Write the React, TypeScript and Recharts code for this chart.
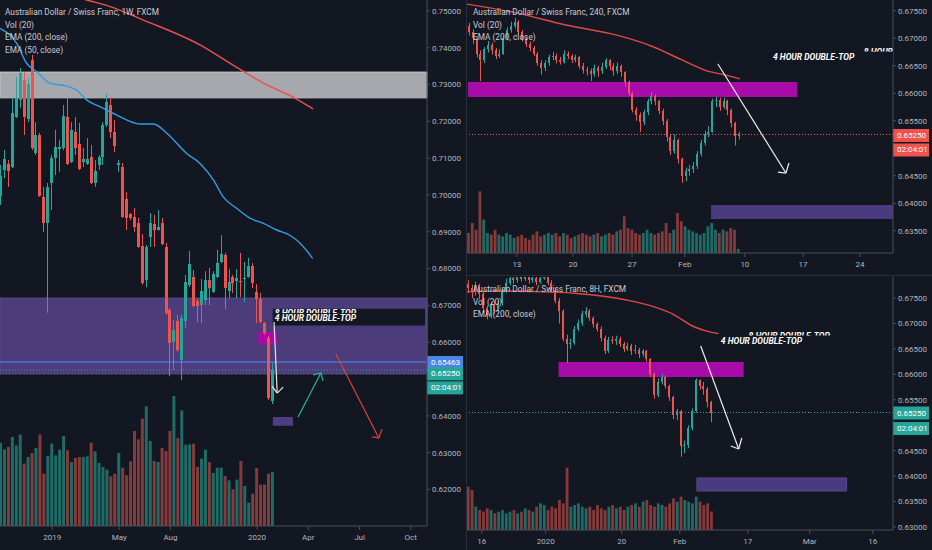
import React from "react";
import {
  ComposedChart,
  Bar,
  Line,
  XAxis,
  YAxis,
  ReferenceArea,
  ReferenceLine,
  ReferenceDot,
} from "recharts";

if (typeof document !== "undefined") {
  document.body.style.margin = "0";
  document.body.style.background = "#131722";
}

const BG = "#131722";
const UP = "#26a69a";
const DOWN = "#ef5350";
const VOL_UP = "#1f6b65";
const VOL_DOWN = "#853a3b";
const AXIS = "#4a4e59";
const TXT = "#b2b5be";
const LEGEND = "#c9ccd4";
const FONT = "Roboto, 'Liberation Sans', sans-serif";
const MAGENTA = "#a70ca8";
const PURPLE = "#4c3c7c";

// ---------------- Weekly (left) ----------------
const weeklyOHLC = [
  [0.6998, 0.7082, 0.6973, 0.7053], [0.7068, 0.7122, 0.7046, 0.7098], [0.7084, 0.7095, 0.7022, 0.7065],
  [0.7076, 0.7264, 0.7073, 0.7223], [0.7212, 0.7321, 0.7209, 0.7264], [0.7258, 0.7345, 0.7237, 0.7332],
  [0.7313, 0.7334, 0.7163, 0.7212], [0.7207, 0.7318, 0.7198, 0.7302], [0.7367, 0.7381, 0.7122, 0.7128],
  [0.7114, 0.7198, 0.7109, 0.7163], [0.7163, 0.7169, 0.6995, 0.6997], [0.6995, 0.7022, 0.69, 0.6924],
  [0.6924, 0.7033, 0.668, 0.7022], [0.7033, 0.7109, 0.6959, 0.7101], [0.7101, 0.7177, 0.7054, 0.7131],
  [0.7125, 0.715, 0.7063, 0.7131], [0.7128, 0.7245, 0.7122, 0.7215], [0.7212, 0.7266, 0.7082, 0.7084],
  [0.709, 0.7198, 0.7087, 0.7177], [0.7171, 0.7212, 0.7109, 0.7128], [0.7139, 0.7196, 0.7068, 0.7071],
  [0.709, 0.7128, 0.7076, 0.7098], [0.7084, 0.7155, 0.7082, 0.7098], [0.7103, 0.7136, 0.703, 0.7033],
  [0.7033, 0.7095, 0.7022, 0.7065], [0.7082, 0.7109, 0.7068, 0.7103], [0.7103, 0.7198, 0.7082, 0.719],
  [0.719, 0.7275, 0.7185, 0.7253], [0.7245, 0.7266, 0.7155, 0.7171], [0.7171, 0.7204, 0.7117, 0.7133],
  [0.7082, 0.7095, 0.7063, 0.7087], [0.7076, 0.7087, 0.6938, 0.694], [0.6989, 0.7008, 0.6905, 0.6938],
  [0.6948, 0.6951, 0.6932, 0.6938], [0.694, 0.6965, 0.69, 0.6913], [0.6924, 0.6938, 0.6857, 0.6859],
  [0.6862, 0.6894, 0.6756, 0.6761], [0.6769, 0.6864, 0.675, 0.6859], [0.6886, 0.6951, 0.6859, 0.6924],
  [0.6921, 0.6946, 0.6859, 0.6905], [0.6905, 0.6959, 0.6903, 0.6913], [0.6924, 0.6938, 0.6864, 0.6867],
  [0.6859, 0.687, 0.6674, 0.668], [0.6688, 0.6693, 0.6508, 0.6598], [0.6601, 0.666, 0.6525, 0.6633],
  [0.6658, 0.6674, 0.6574, 0.6579], [0.6552, 0.6674, 0.6497, 0.6666], [0.6658, 0.6783, 0.6639, 0.6764],
  [0.6756, 0.6848, 0.675, 0.6813], [0.6777, 0.6796, 0.6696, 0.6698], [0.6712, 0.672, 0.6655, 0.6698],
  [0.6701, 0.6772, 0.6652, 0.6739], [0.6715, 0.6793, 0.6701, 0.6769], [0.6769, 0.6802, 0.6701, 0.6747],
  [0.6737, 0.6793, 0.6734, 0.6785], [0.6777, 0.6851, 0.6775, 0.6815], [0.6818, 0.6891, 0.6815, 0.684],
  [0.6837, 0.6843, 0.669, 0.6747], [0.6739, 0.6799, 0.672, 0.6764], [0.6777, 0.6783, 0.6734, 0.6761],
  [0.6766, 0.6799, 0.672, 0.6775], [0.6766, 0.6843, 0.6723, 0.6764], [0.6772, 0.6818, 0.6709, 0.6775],
  [0.6777, 0.6829, 0.6775, 0.6807], [0.6807, 0.6815, 0.6747, 0.6761], [0.6737, 0.6758, 0.6652, 0.6718],
  [0.6718, 0.6734, 0.6652, 0.6655], [0.6652, 0.6655, 0.662, 0.6625], [0.6612, 0.6617, 0.6443, 0.6449],
  [0.644, 0.6545, 0.6432, 0.6525],
];
const weeklyVolume = [
  250, 230, 237, 267, 242, 274, 187, 207, 219, 234, 274, 157, 210, 247, 212, 229, 270, 227, 192, 204,
  207, 207, 209, 250, 224, 189, 177, 169, 149, 157, 219, 175, 152, 194, 285, 260, 322, 359, 255, 195,
  192, 234, 225, 285, 390, 264, 347, 244, 245, 247, 177, 202, 229, 192, 159, 175, 175, 150, 137, 110,
  139, 195, 120, 70, 97, 174, 124, 124, 157, 162,
];
const weeklyEma200 = [
  [15, 0.7552], [21.8, 0.753], [27.7, 0.7512], [36, 0.7476], [50.5, 0.7408], [58.9, 0.7353],
  [67.5, 0.7299], [74.1, 0.7266], [79.2, 0.7234],
];
const weeklyEma50 = [
  [-0.3, 0.7453], [4, 0.7412], [6.5, 0.7358], [9.1, 0.7335], [12.4, 0.7304], [16.7, 0.7296],
  [19.2, 0.7285], [21.8, 0.7258], [25.1, 0.724], [29.4, 0.7217], [35.3, 0.7193], [38.7, 0.7193],
  [42.1, 0.7168], [47.1, 0.7113], [50.5, 0.7086], [53.9, 0.7041], [56.4, 0.6995], [59.8, 0.6964],
  [63.2, 0.6937], [66.6, 0.6923], [70, 0.6905], [73.4, 0.689], [75.9, 0.6869], [79.1, 0.6828],
];
const weeklyTicks = [13, 30, 43, 65, 78, 91, 104];
const weeklyTickLabels = ["2019", "May", "Aug", "2020", "Apr", "Jul", "Oct"];
const weeklyPriceTicks = [0.75, 0.74, 0.73, 0.72, 0.71, 0.7, 0.69, 0.68, 0.67, 0.66, 0.64, 0.63, 0.62];
const weeklyGrayZone = [0.7264, 0.7334];
const weeklyPurpleZone = [0.6514, 0.672];
const weeklyMagentaZone = [65.2, 70.1, 0.6595, 0.6628];
const weeklyTargetZone = [69, 74.1, 0.6373, 0.6397];
const weeklyLabelBox = [69, 107.6, 0.66461, 0.66912];
const weeklyBlueLevel = 0.65463;
const weeklyArrowWhite = [[69.3, 0.6655], [70.1, 0.6462], [68.8, 0.6481], [71.6, 0.6478]];
const weeklyArrowTeal = [[75.4, 0.6397], [81.2, 0.6517], [79.2, 0.6511], [81.7, 0.6495]];
const weeklyArrowRed = [[85, 0.6568], [95.9, 0.634], [94.2, 0.6343], [96.7, 0.6364]];

// ---------------- 240 (top right) ----------------
const h4OHLC = [
  [0.6722, 0.6728, 0.6705, 0.6712], [0.6712, 0.6716, 0.669, 0.67], [0.67, 0.6703, 0.6665, 0.6672],
  [0.6672, 0.6678, 0.6622, 0.666], [0.666, 0.6684, 0.6655, 0.668], [0.668, 0.6695, 0.6674, 0.6688],
  [0.6688, 0.6692, 0.667, 0.6678], [0.6678, 0.6682, 0.6662, 0.6668], [0.6668, 0.668, 0.6664, 0.6672],
  [0.6672, 0.6705, 0.667, 0.67], [0.67, 0.672, 0.6696, 0.6715], [0.6715, 0.673, 0.671, 0.6722],
  [0.6722, 0.6737, 0.6718, 0.673], [0.673, 0.6733, 0.6708, 0.6712], [0.6712, 0.6715, 0.6694, 0.6698],
  [0.6698, 0.6702, 0.6684, 0.669], [0.669, 0.6694, 0.6676, 0.6682], [0.6682, 0.6686, 0.6668, 0.6672],
  [0.6672, 0.6675, 0.665, 0.6655], [0.6655, 0.666, 0.6634, 0.6645], [0.6645, 0.666, 0.664, 0.6655],
  [0.6655, 0.667, 0.665, 0.6665], [0.6665, 0.6675, 0.666, 0.6668], [0.6668, 0.6672, 0.6654, 0.666],
  [0.666, 0.6666, 0.6652, 0.6657], [0.6657, 0.6678, 0.6654, 0.6672], [0.6672, 0.6676, 0.6662, 0.6668],
  [0.6668, 0.6671, 0.6655, 0.666], [0.666, 0.667, 0.6656, 0.6665], [0.6665, 0.6668, 0.6645, 0.665],
  [0.665, 0.6655, 0.6636, 0.6642], [0.6642, 0.6648, 0.6632, 0.664], [0.664, 0.6645, 0.6622, 0.6635],
  [0.6635, 0.6652, 0.663, 0.6645], [0.6645, 0.665, 0.663, 0.664], [0.664, 0.6655, 0.6635, 0.6648],
  [0.6648, 0.6664, 0.6644, 0.666], [0.666, 0.6662, 0.6642, 0.665], [0.665, 0.6655, 0.6632, 0.664],
  [0.664, 0.6656, 0.6635, 0.665], [0.665, 0.6652, 0.663, 0.6638], [0.6638, 0.664, 0.6612, 0.662],
  [0.662, 0.6623, 0.6595, 0.66], [0.66, 0.6603, 0.6565, 0.657], [0.657, 0.6575, 0.655, 0.656],
  [0.656, 0.6565, 0.653, 0.6548], [0.6548, 0.657, 0.6542, 0.6565], [0.6565, 0.659, 0.656, 0.6585],
  [0.6585, 0.6602, 0.658, 0.6595], [0.6595, 0.6598, 0.6578, 0.6585], [0.6585, 0.6588, 0.6562, 0.6568],
  [0.6568, 0.6572, 0.6542, 0.655], [0.655, 0.6553, 0.6512, 0.652], [0.652, 0.6524, 0.6488, 0.6495],
  [0.6495, 0.6525, 0.649, 0.6515], [0.6515, 0.6518, 0.6472, 0.648], [0.648, 0.6483, 0.6437, 0.645],
  [0.645, 0.6465, 0.644, 0.6458], [0.6458, 0.647, 0.645, 0.6462], [0.6462, 0.6475, 0.6455, 0.6468],
  [0.6468, 0.6495, 0.6462, 0.649], [0.649, 0.6515, 0.6485, 0.651], [0.651, 0.6532, 0.6505, 0.6525],
  [0.6525, 0.654, 0.652, 0.653], [0.653, 0.659, 0.6528, 0.6585], [0.6585, 0.6593, 0.6575, 0.6588],
  [0.6588, 0.6592, 0.6568, 0.6575], [0.6575, 0.6592, 0.6572, 0.6585], [0.6585, 0.6588, 0.656, 0.657],
  [0.657, 0.6572, 0.6538, 0.6545], [0.6545, 0.6548, 0.6505, 0.6522], [0.6522, 0.653, 0.6516, 0.6525],
];
const h4Volume = [
  60, 90, 70, 185, 100, 60, 55, 70, 55, 50, 60, 55, 45, 50, 55, 45, 40, 55, 65, 50,
  55, 60, 55, 60, 50, 60, 55, 45, 50, 55, 60, 55, 50, 55, 60, 50, 55, 60, 55, 65,
  70, 110, 75, 70, 60, 55, 60, 70, 60, 55, 60, 65, 90, 60, 70, 120, 95, 80, 70, 65,
  60, 55, 60, 80, 90, 70, 60, 70, 65, 75, 70, 12,
];
const h4Ema200 = [
  [-0.5, 0.6762], [12.4, 0.6746], [25.5, 0.6724], [38.7, 0.6706], [48.3, 0.6685], [56.2, 0.666],
  [62.4, 0.6641], [67.6, 0.6633], [71.3, 0.6626],
];
const h4Ticks = [12.6, 27.4, 42.9, 56.8, 72.6, 87.9, 102.9];
const h4TickLabels = ["13", "20", "27", "Feb", "10", "17", "24"];
const h4PriceTicks = [0.675, 0.67, 0.665, 0.66, 0.655, 0.645, 0.64, 0.635];
const h4MagentaZone = [-0.3, 86.3, 0.65931, 0.66204];
const h4TargetZone = [63.7, 0.63713, 0.63967];
const h4ArrowWhite = [[65.5, 0.66531], [83.4, 0.64549], [81.3, 0.64567], [84.2, 0.64731]];
const h4Label4 = [80, 0.66604];
const h4Label8 = [103.9, 0.66694];

// ---------------- 8H (bottom right) ----------------
const h8OHLC = [
  [0.6778, 0.6785, 0.676, 0.677], [0.677, 0.6776, 0.675, 0.6762], [0.6762, 0.6782, 0.6755, 0.6775],
  [0.6775, 0.6778, 0.6748, 0.6758], [0.6758, 0.6762, 0.6722, 0.673], [0.673, 0.6735, 0.6708, 0.6715],
  [0.6715, 0.6742, 0.671, 0.6738], [0.6738, 0.6745, 0.6718, 0.6725], [0.6725, 0.6746, 0.672, 0.674],
  [0.674, 0.677, 0.6735, 0.6765], [0.6765, 0.6788, 0.676, 0.678], [0.678, 0.6798, 0.6775, 0.679],
  [0.679, 0.68, 0.6778, 0.6785], [0.6785, 0.6805, 0.678, 0.6795], [0.6795, 0.6802, 0.6782, 0.6788],
  [0.6788, 0.68, 0.6783, 0.6792], [0.6792, 0.6798, 0.6778, 0.6785], [0.6785, 0.6798, 0.678, 0.679],
  [0.679, 0.6796, 0.6775, 0.6782], [0.6782, 0.68, 0.6778, 0.679], [0.679, 0.6805, 0.6786, 0.6795],
  [0.6795, 0.68, 0.6775, 0.678], [0.678, 0.6785, 0.676, 0.6765], [0.6765, 0.677, 0.674, 0.6745],
  [0.6745, 0.675, 0.67, 0.6725], [0.6725, 0.6728, 0.6665, 0.667], [0.667, 0.6678, 0.6623, 0.666],
  [0.666, 0.667, 0.665, 0.6662], [0.6662, 0.6695, 0.6658, 0.669], [0.669, 0.6708, 0.6685, 0.67],
  [0.67, 0.6725, 0.6695, 0.6718], [0.6718, 0.6732, 0.6712, 0.6725], [0.6725, 0.6728, 0.6705, 0.671],
  [0.671, 0.6714, 0.6692, 0.6698], [0.6698, 0.6702, 0.6684, 0.669], [0.669, 0.6694, 0.6665, 0.6672],
  [0.6672, 0.6676, 0.664, 0.6645], [0.6645, 0.6674, 0.6642, 0.6668], [0.6668, 0.6675, 0.666, 0.6665],
  [0.6665, 0.6676, 0.6658, 0.667], [0.667, 0.6674, 0.6654, 0.666], [0.666, 0.6664, 0.6644, 0.665],
  [0.665, 0.6662, 0.6646, 0.6655], [0.6655, 0.666, 0.6638, 0.6645], [0.6645, 0.6658, 0.664, 0.6648],
  [0.6648, 0.6652, 0.6632, 0.664], [0.664, 0.665, 0.6635, 0.6645], [0.6645, 0.6648, 0.6625, 0.663],
  [0.663, 0.6632, 0.6595, 0.66], [0.66, 0.6603, 0.6552, 0.656], [0.656, 0.6592, 0.6555, 0.6585],
  [0.6585, 0.6601, 0.658, 0.6595], [0.6595, 0.6598, 0.6572, 0.6578], [0.6578, 0.658, 0.6548, 0.6555],
  [0.6555, 0.6558, 0.6512, 0.652], [0.652, 0.6532, 0.651, 0.6527], [0.6527, 0.653, 0.6438, 0.646],
  [0.646, 0.647, 0.6445, 0.6462], [0.6462, 0.65, 0.6455, 0.6495], [0.6495, 0.6533, 0.649, 0.6528],
  [0.6528, 0.6592, 0.6525, 0.6588], [0.6588, 0.659, 0.657, 0.6578], [0.6578, 0.6585, 0.656, 0.6572],
  [0.6572, 0.6575, 0.6535, 0.6545], [0.6545, 0.6548, 0.6506, 0.6525],
];
const h8Volume = [
  130, 120, 70, 60, 55, 65, 60, 50, 55, 60, 50, 55, 60, 50, 55, 65, 60, 55, 70, 80,
  75, 60, 70, 65, 90, 80, 187, 70, 75, 80, 70, 65, 70, 60, 75, 65, 60, 70, 75, 65,
  70, 60, 70, 75, 80, 70, 85, 90, 75, 70, 80, 75, 70, 80, 95, 85, 100, 90, 85, 80,
  100, 85, 75, 80, 55,
];
const h8Ema200 = [
  [-0.3, 0.6762], [8.5, 0.6764], [20, 0.6762], [28.7, 0.6759], [41.8, 0.6746], [48.9, 0.6733],
  [54.1, 0.6718], [59.4, 0.6694], [62.9, 0.6685], [66, 0.668],
];
const h8Ticks = [3.7, 20.5, 40.5, 55.8, 73.7, 90, 106.6];
const h8TickLabels = ["16", "2020", "20", "Feb", "17", "Mar", "16"];
const h8PriceTicks = [0.675, 0.67, 0.665, 0.66, 0.655, 0.645, 0.64, 0.635, 0.63];
const h8MagentaZone = [23.9, 72.6, 0.65948, 0.66242];
const h8TargetZone = [60.3, 99.7, 0.63708, 0.63963];
const h8ArrowWhite = [[61.3, 0.66557], [71.3, 0.64533], [69.2, 0.64592], [72.1, 0.64749]];
const h8Label4 = [66.6, 0.66596];
const h8Label8 = [73.9, 0.66704];

const COUNTDOWN = "02:04:01";

type Row = { i: number; o: number; h: number; l: number; c: number; v: number };
const toRows = (ohlc: number[][], vol: number[]): Row[] =>
  ohlc.map(([o, h, l, c], i) => ({ i, o, h, l, c, v: vol[i] }));
const toLine = (pts: number[][]) => pts.map(([i, e]) => ({ i, e }));

const weeklyRows = toRows(weeklyOHLC, weeklyVolume);
const h4Rows = toRows(h4OHLC, h4Volume);
const h8Rows = toRows(h8OHLC, h8Volume);
const lastClose = (rows: Row[]) => rows[rows.length - 1].c;

function CandleShape(props: any) {
  const { x, y, width, height, payload } = props;
  if (x == null || y == null || !payload) return null;
  const { o, h, l, c } = payload as Row;
  const color = c >= o ? UP : DOWN;
  const k = h - l > 0 ? height / (h - l) : 0;
  const yo = y + (h - o) * k;
  const yc = y + (h - c) * k;
  const top = Math.min(yo, yc);
  const bh = Math.max(Math.abs(yo - yc), 1);
  const w = Math.max(1, Math.round(width));
  const center = x + width / 2;
  const x0 = Math.round(center - w / 2);
  const wx = x0 + Math.floor(w / 2) + 0.5;
  return (
    <g>
      <line x1={wx} x2={wx} y1={y} y2={y + height} stroke={color} strokeWidth={1} />
      <rect x={x0} y={top} width={w} height={bh} fill={color} shapeRendering="crispEdges" />
    </g>
  );
}

function VolShape(props: any) {
  const { x, y, width, height, payload } = props;
  if (x == null || y == null || !payload) return null;
  return (
    <rect x={x} y={y} width={width} height={Math.max(height, 0)} fill={payload.c >= payload.o ? VOL_UP : VOL_DOWN} />
  );
}

type Tag = { text: string; bg: string; dy: number };
function PriceTags({ viewBox, tags }: { viewBox?: any; tags: Tag[] }) {
  if (!viewBox) return null;
  const x = viewBox.x + viewBox.width;
  const y = viewBox.y;
  return (
    <g>
      {tags.map((t, k) => (
        <g key={k}>
          <rect x={x} y={y + t.dy - 6.5} width={36} height={13} fill={t.bg} />
          <text x={x + 4} y={y + t.dy} dominantBaseline="central" fill="#ffffff" fontSize={8} fontFamily={FONT}>
            {t.text}
          </text>
        </g>
      ))}
    </g>
  );
}

const labelStyle = {
  fill: "#ffffff",
  fontSize: 8.5,
  fontWeight: 700,
  fontStyle: "italic",
  fontFamily: FONT,
} as const;

function arrow(pts: number[][], color: string, key: string) {
  const tip = { x: pts[1][0], y: pts[1][1] };
  return [
    <ReferenceLine key={key + "a"} segment={[{ x: pts[0][0], y: pts[0][1] }, tip]} stroke={color} strokeWidth={1.2} />,
    <ReferenceLine key={key + "b"} segment={[{ x: pts[2][0], y: pts[2][1] }, tip]} stroke={color} strokeWidth={1.2} />,
    <ReferenceLine key={key + "c"} segment={[{ x: pts[3][0], y: pts[3][1] }, tip]} stroke={color} strokeWidth={1.2} />,
  ];
}

function label8(pos: number[], key: string, clipWidth?: number) {
  return (
    <ReferenceDot
      key={key}
      x={pos[0]}
      y={pos[1]}
      r={0}
      shape={(sp: any) =>
        clipWidth ? (
          <svg x={sp.cx} y={sp.cy - 10} width={clipWidth} height={14} overflow="hidden">
            <text x={0} y={10} {...labelStyle}>8 HOUR DOUBLE-TOP</text>
          </svg>
        ) : (
          <text x={sp.cx} y={sp.cy} {...labelStyle}>8 HOUR DOUBLE-TOP</text>
        )
      }
    />
  );
}

function label4(pos: number[], key: string, bgWidth: number) {
  return (
    <ReferenceDot
      key={key}
      x={pos[0]}
      y={pos[1]}
      r={0}
      shape={(sp: any) => (
        <g>
          <rect x={sp.cx - 2} y={sp.cy - 8.5} width={bgWidth} height={12} fill={BG} />
          <text x={sp.cx} y={sp.cy} {...labelStyle}>4 HOUR DOUBLE-TOP</text>
        </g>
      )}
    />
  );
}

type PanelProps = {
  width: number;
  height: number;
  margin: { top: number; right: number; bottom: number; left: number };
  rows: Row[];
  xDomain: [number, number];
  yDomain: [number, number];
  volMax: number;
  xTicks: number[];
  xLabels: string[];
  yTicks: number[];
  xAxisHeight: number;
  candleWidth: number;
  volWidth: number;
  emas: { data: { i: number; e: number }[]; color: string }[];
  under?: React.ReactNode;
  over?: React.ReactNode;
};

function Panel(p: PanelProps) {
  return (
    <ComposedChart width={p.width} height={p.height} data={p.rows} margin={p.margin}>
      <XAxis
        type="number"
        dataKey="i"
        domain={p.xDomain}
        allowDataOverflow
        ticks={p.xTicks}
        interval={0}
        tickFormatter={(v: number) => p.xLabels[p.xTicks.indexOf(v)] ?? ""}
        height={p.xAxisHeight}
        tickSize={4}
        tickMargin={4}
        tick={{ fill: TXT, fontSize: 8, fontFamily: FONT }}
        axisLine={{ stroke: AXIS }}
        tickLine={{ stroke: AXIS }}
      />
      <XAxis xAxisId="vx" type="number" dataKey="i" domain={p.xDomain} allowDataOverflow hide />
      <XAxis xAxisId="lx" type="number" dataKey="i" domain={p.xDomain} allowDataOverflow hide />
      <YAxis
        orientation="right"
        type="number"
        domain={p.yDomain}
        allowDataOverflow
        ticks={p.yTicks}
        interval={0}
        tickFormatter={(v: number) => v.toFixed(5)}
        width={39}
        tickSize={3}
        tickMargin={2}
        tick={{ fill: TXT, fontSize: 8, fontFamily: FONT }}
        axisLine={{ stroke: AXIS }}
        tickLine={{ stroke: AXIS }}
      />
      <YAxis yAxisId="vol" type="number" domain={[0, p.volMax]} allowDataOverflow hide />
      {p.under}
      <Bar
        xAxisId="vx"
        yAxisId="vol"
        dataKey="v"
        barSize={p.volWidth}
        isAnimationActive={false}
        shape={VolShape}
      />
      <Bar
        dataKey={(d: Row) => [d.l, d.h]}
        barSize={p.candleWidth}
        isAnimationActive={false}
        shape={CandleShape}
      />
      {p.emas.map((e, k) => (
        <Line
          key={k}
          xAxisId="lx"
          data={e.data}
          dataKey="e"
          type="monotone"
          stroke={e.color}
          strokeWidth={1.4}
          dot={false}
          activeDot={false}
          isAnimationActive={false}
        />
      ))}
      {p.over}
    </ComposedChart>
  );
}

function LegendBlock({ left, top, lines }: { left: number; top: number; lines: string[] }) {
  return (
    <div
      style={{
        position: "absolute",
        left,
        top,
        color: LEGEND,
        fontFamily: FONT,
        fontSize: 8.3,
        lineHeight: "12.7px",
        pointerEvents: "none",
        whiteSpace: "nowrap",
      }}
    >
      {lines.map((t, k) => (
        <div key={k}>{t}</div>
      ))}
    </div>
  );
}

export default function App() {
  const wClose = lastClose(weeklyRows);
  const h4Close = lastClose(h4Rows);
  const h8Close = lastClose(h8Rows);
  return (
    <div style={{ position: "relative", width: 932, height: 550, background: BG, overflow: "hidden" }}>
      {/* Left: weekly */}
      <div style={{ position: "absolute", left: 0, top: 0 }}>
        <Panel
          width={466}
          height={550}
          margin={{ top: 0, right: 0, bottom: 0, left: 0 }}
          rows={weeklyRows}
          xDomain={[-0.254, 108.12]}
          yDomain={[0.61008, 0.75299]}
          volMax={1578}
          xTicks={weeklyTicks}
          xLabels={weeklyTickLabels}
          yTicks={weeklyPriceTicks}
          xAxisHeight={24}
          candleWidth={3}
          volWidth={3}
          emas={[
            { data: toLine(weeklyEma200), color: "#ef4f4f" },
            { data: toLine(weeklyEma50), color: "#2f9fe0" },
          ]}
          under={[
            <ReferenceArea key="g" y1={weeklyGrayZone[0]} y2={weeklyGrayZone[1]} fill="#a6a8ad" fillOpacity={1} stroke="#c3c4c8" />,
            <ReferenceArea key="p" y1={weeklyPurpleZone[0]} y2={weeklyPurpleZone[1]} fill={PURPLE} fillOpacity={1} stroke="#5a4b8c" />,
            <ReferenceArea key="m" x1={weeklyMagentaZone[0]} x2={weeklyMagentaZone[1]} y1={weeklyMagentaZone[2]} y2={weeklyMagentaZone[3]} fill={MAGENTA} fillOpacity={1} />,
            <ReferenceArea key="t" x1={weeklyTargetZone[0]} x2={weeklyTargetZone[1]} y1={weeklyTargetZone[2]} y2={weeklyTargetZone[3]} fill="#4e3d82" fillOpacity={1} />,
          ]}
          over={[
            <ReferenceLine
              key="blue"
              y={weeklyBlueLevel}
              stroke="#4d8ef7"
              strokeWidth={1}
              label={(lp: any) => (
                <PriceTags viewBox={lp.viewBox} tags={[{ text: weeklyBlueLevel.toFixed(5), bg: "#4a86e8", dy: 0.5 }]} />
              )}
            />,
            <ReferenceLine
              key="last"
              y={wClose}
              stroke={UP}
              strokeDasharray="1 2"
              label={(lp: any) => (
                <PriceTags
                  viewBox={lp.viewBox}
                  tags={[
                    { text: wClose.toFixed(5), bg: UP, dy: 4 },
                    { text: COUNTDOWN, bg: UP, dy: 18 },
                  ]}
                />
              )}
            />,
            <ReferenceArea
              key="lbl"
              x1={weeklyLabelBox[0]}
              x2={weeklyLabelBox[1]}
              y1={weeklyLabelBox[2]}
              y2={weeklyLabelBox[3]}
              fill={BG}
              fillOpacity={1}
              label={(lp: any) => {
                const vb = lp.viewBox || {};
                return (
                  <g>
                    <text x={vb.x + 2} y={vb.y + 7.6} {...labelStyle}>8 HOUR DOUBLE-TOP</text>
                    <rect x={vb.x} y={vb.y + 4.4} width={vb.width} height={vb.height - 4.4} fill={BG} />
                    <text x={vb.x + 2} y={vb.y + 12.6} {...labelStyle}>4 HOUR DOUBLE-TOP</text>
                  </g>
                );
              }}
            />,
            ...arrow(weeklyArrowWhite, "#e6e6e6", "aw"),
            ...arrow(weeklyArrowTeal, "#2bb394", "at"),
            ...arrow(weeklyArrowRed, "#e0403f", "ar"),
          ]}
        />
      </div>

      {/* Top right: 240 */}
      <div style={{ position: "absolute", left: 466, top: 0 }}>
        <Panel
          width={466}
          height={276}
          margin={{ top: 0, right: 0, bottom: 0, left: 1 }}
          rows={h4Rows}
          xDomain={[-0.526, 111.58]}
          yDomain={[0.63095, 0.67695]}
          volMax={759}
          xTicks={h4Ticks}
          xLabels={h4TickLabels}
          yTicks={h4PriceTicks}
          xAxisHeight={23}
          candleWidth={2}
          volWidth={2.8}
          emas={[{ data: toLine(h4Ema200), color: "#e04848" }]}
          under={[
            <ReferenceArea key="m" x1={h4MagentaZone[0]} x2={h4MagentaZone[1]} y1={h4MagentaZone[2]} y2={h4MagentaZone[3]} fill={MAGENTA} fillOpacity={1} />,
            <ReferenceArea key="t" x1={h4TargetZone[0]} y1={h4TargetZone[1]} y2={h4TargetZone[2]} fill="#4a3a7e" fillOpacity={1} />,
          ]}
          over={[
            <ReferenceLine
              key="last"
              y={h4Close}
              stroke={DOWN}
              strokeDasharray="1 2"
              label={(lp: any) => (
                <PriceTags
                  viewBox={lp.viewBox}
                  tags={[
                    { text: h4Close.toFixed(5), bg: DOWN, dy: 1 },
                    { text: COUNTDOWN, bg: DOWN, dy: 15.5 },
                  ]}
                />
              )}
            />,
            ...arrow(h4ArrowWhite, "#eeeeee", "aw"),
            label8(h4Label8, "l8", 29),
            label4(h4Label4, "l4", 122),
          ]}
        />
      </div>

      {/* Bottom right: 8H */}
      <div style={{ position: "absolute", left: 466, top: 276 }}>
        <Panel
          width={466}
          height={274}
          margin={{ top: 1, right: 0, bottom: 0, left: 1 }}
          rows={h8Rows}
          xDomain={[-0.2, 111.9]}
          yDomain={[0.62941, 0.67913]}
          volMax={759}
          xTicks={h8Ticks}
          xLabels={h8TickLabels}
          yTicks={h8PriceTicks}
          xAxisHeight={20}
          candleWidth={2}
          volWidth={2.8}
          emas={[{ data: toLine(h8Ema200), color: "#e04848" }]}
          under={[
            <ReferenceArea key="m" x1={h8MagentaZone[0]} x2={h8MagentaZone[1]} y1={h8MagentaZone[2]} y2={h8MagentaZone[3]} fill={MAGENTA} fillOpacity={1} />,
            <ReferenceArea key="t" x1={h8TargetZone[0]} x2={h8TargetZone[1]} y1={h8TargetZone[2]} y2={h8TargetZone[3]} fill="#4a3a7e" fillOpacity={1} stroke="#5a4b8c" />,
          ]}
          over={[
            <ReferenceLine
              key="last"
              y={h8Close}
              stroke={UP}
              strokeDasharray="1 2"
              label={(lp: any) => (
                <PriceTags
                  viewBox={lp.viewBox}
                  tags={[
                    { text: h8Close.toFixed(5), bg: UP, dy: 0.5 },
                    { text: COUNTDOWN, bg: UP, dy: 16 },
                  ]}
                />
              )}
            />,
            ...arrow(h8ArrowWhite, "#eeeeee", "aw"),
            label8(h8Label8, "l8"),
            label4(h8Label4, "l4", 118),
          ]}
        />
      </div>

      {/* panel separators */}
      <div style={{ position: "absolute", left: 466, top: 0, width: 1, height: 550, background: "#2a2e39" }} />
      <div style={{ position: "absolute", left: 466, top: 275, width: 466, height: 1, background: "#2a2e39" }} />

      <LegendBlock
        left={5}
        top={6}
        lines={["Australian Dollar / Swiss Franc, 1W, FXCM", "Vol (20)", "EMA (200, close)", "EMA (50, close)"]}
      />
      <LegendBlock left={473} top={6} lines={["Australian Dollar / Swiss Franc, 240, FXCM", "Vol (20)", "EMA (200, close)"]} />
      <LegendBlock left={473} top={283} lines={["Australian Dollar / Swiss Franc, 8H, FXCM", "Vol (20)", "EMA (200, close)"]} />
    </div>
  );
}
